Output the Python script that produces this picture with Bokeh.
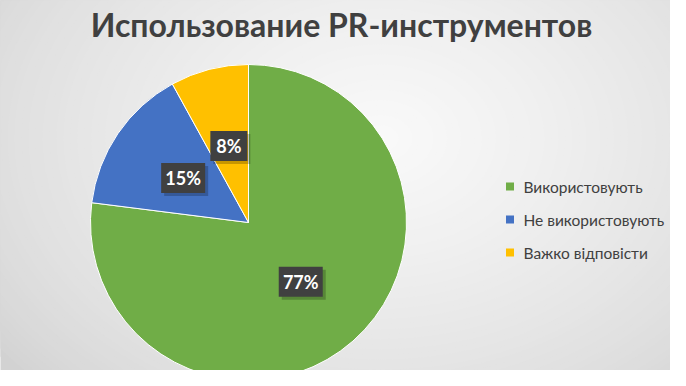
import numpy as np
from bokeh.plotting import figure
from bokeh.models import Range1d
from bokeh.core.properties import value
from bokeh.embed import file_html
from bokeh.resources import INLINE

title_text = "Использование PR-инструментов"
categories = ["Використовують", "Не використовують", "Важко відповісти"]
shares = [77, 15, 8]
colors = ["#70AD47", "#4472C4", "#FFC000"]

W, H = 670, 370
p = figure(width=W, height=H, x_range=Range1d(0, W), y_range=Range1d(0, H),
           output_backend="svg", toolbar_location=None, min_border=0)
p.axis.visible = False
p.grid.visible = False
p.outline_line_color = None
p.background_fill_color = "#d2d2d2"
p.border_fill_color = "#d2d2d2"

# radial background gradient (decoration)
gx, gy = 380, 232
n = 70
t = np.linspace(0, 1, n)
rx = 480 * (1 - t) + 4
ry = 350 * (1 - t) + 3
lv = (0xd2 + (0xfa - 0xd2) * t ** 0.7).astype(int)
gcols = ["#%02x%02x%02x" % (v, v, v) for v in lv]
p.ellipse(x=gx, y=gy, width=2 * rx, height=2 * ry, fill_color=gcols, line_color=None)

# pie
cx, cy, R = 248, 148, 158
fr = np.array(shares, dtype=float) / sum(shares)
cum = np.concatenate([[0], np.cumsum(fr)])
a0 = np.pi / 2 - 2 * np.pi * cum[:-1]
a1 = np.pi / 2 - 2 * np.pi * cum[1:]
p.wedge(x=cx, y=cy, radius=R, start_angle=a0, end_angle=a1, direction="clock",
        fill_color=colors, line_color="white", line_width=1)

# data labels
mid = (a0 + a1) / 2
lx = cx + 0.5 * R * np.cos(mid)
ly = cy + 0.5 * R * np.sin(mid)
labels = ["%d%%" % v for v in shares]
bw = [23 + 7 * len(s) for s in labels]
p.rect(x=lx + 3, y=ly - 3, width=bw, height=30, fill_color="black", fill_alpha=0.22, line_color=None)
p.rect(x=lx, y=ly, width=bw, height=30, fill_color="#404040", line_color=None)
p.text(x=lx, y=ly, text=labels, text_align="center", text_baseline="middle",
       text_font=value("Lato"), text_font_style="bold", text_font_size="18px", text_color="white")

# title
p.text(x=[341], y=[346], text=[title_text], text_align="center", text_baseline="middle",
       text_font=value("Lato"), text_font_style="bold", text_font_size="32px", text_color="#404040")

# legend
ys = 184 - 33 * np.arange(len(categories))
p.rect(x=[509.5] * len(categories), y=ys, width=8, height=8, fill_color=colors, line_color=None)
p.text(x=[523] * len(categories), y=ys, text=categories, text_align="left", text_baseline="middle",
       text_font=value("Lato"), text_font_size="15.5px", text_color="#404040")

open("out.html", "w").write(file_html(p, INLINE))
